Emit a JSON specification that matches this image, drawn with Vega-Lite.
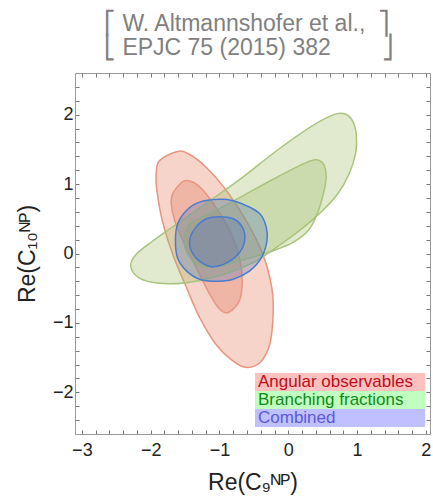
{
  "$schema": "https://vega.github.io/schema/vega-lite/v6.json",
  "width": 355,
  "height": 361,
  "autosize": "none",
  "padding": {"left": 75, "top": 73, "right": 3, "bottom": 63},
  "background": "white",
  "config": {"view": {"stroke": null}},
  "title": {
    "text": ["⎡ W. Altmannshofer et al.,\u00a0\u00a0⎤", "⎣ EPJC 75 (2015) 382\u00a0\u00a0\u00a0\u00a0\u00a0\u00a0\u00a0\u00a0⎦"],
    "frame": "group",
    "anchor": "start",
    "align": "left",
    "dx": 29,
    "offset": -10,
    "baseline": "bottom",
    "font": "Liberation Sans",
    "fontSize": 23,
    "fontWeight": "normal",
    "lineHeight": 24,
    "color": "#808080"
  },
  "datasets": {
    "legend": [
      {"s": "Angular observables"},
      {"s": "Branching fractions"},
      {"s": "Combined"}
    ],
    "contours": [
      {"s": "Angular observables", "c": "A2", "i": 0, "x": -1.87, "y": 1.34},
      {"s": "Angular observables", "c": "A2", "i": 1, "x": -1.61, "y": 1.47},
      {"s": "Angular observables", "c": "A2", "i": 2, "x": -1.44, "y": 1.43},
      {"s": "Angular observables", "c": "A2", "i": 3, "x": -1.19, "y": 1.24},
      {"s": "Angular observables", "c": "A2", "i": 4, "x": -0.90, "y": 0.91},
      {"s": "Angular observables", "c": "A2", "i": 5, "x": -0.61, "y": 0.47},
      {"s": "Angular observables", "c": "A2", "i": 6, "x": -0.37, "y": -0.01},
      {"s": "Angular observables", "c": "A2", "i": 7, "x": -0.24, "y": -0.49},
      {"s": "Angular observables", "c": "A2", "i": 8, "x": -0.22, "y": -0.87},
      {"s": "Angular observables", "c": "A2", "i": 9, "x": -0.27, "y": -1.31},
      {"s": "Angular observables", "c": "A2", "i": 10, "x": -0.41, "y": -1.57},
      {"s": "Angular observables", "c": "A2", "i": 11, "x": -0.61, "y": -1.64},
      {"s": "Angular observables", "c": "A2", "i": 12, "x": -0.80, "y": -1.55},
      {"s": "Angular observables", "c": "A2", "i": 13, "x": -1.05, "y": -1.31},
      {"s": "Angular observables", "c": "A2", "i": 14, "x": -1.29, "y": -0.92},
      {"s": "Angular observables", "c": "A2", "i": 15, "x": -1.48, "y": -0.49},
      {"s": "Angular observables", "c": "A2", "i": 16, "x": -1.68, "y": -0.01},
      {"s": "Angular observables", "c": "A2", "i": 17, "x": -1.83, "y": 0.47},
      {"s": "Angular observables", "c": "A2", "i": 18, "x": -1.91, "y": 0.91},
      {"s": "Angular observables", "c": "A2", "i": 19, "x": -1.92, "y": 1.15},

      {"s": "Angular observables", "c": "A1", "i": 0, "x": -1.68, "y": 0.86},
      {"s": "Angular observables", "c": "A1", "i": 1, "x": -1.53, "y": 1.04},
      {"s": "Angular observables", "c": "A1", "i": 2, "x": -1.39, "y": 1.03},
      {"s": "Angular observables", "c": "A1", "i": 3, "x": -1.24, "y": 0.91},
      {"s": "Angular observables", "c": "A1", "i": 4, "x": -1.05, "y": 0.66},
      {"s": "Angular observables", "c": "A1", "i": 5, "x": -0.85, "y": 0.33},
      {"s": "Angular observables", "c": "A1", "i": 6, "x": -0.71, "y": -0.06},
      {"s": "Angular observables", "c": "A1", "i": 7, "x": -0.67, "y": -0.39},
      {"s": "Angular observables", "c": "A1", "i": 8, "x": -0.71, "y": -0.68},
      {"s": "Angular observables", "c": "A1", "i": 9, "x": -0.87, "y": -0.85},
      {"s": "Angular observables", "c": "A1", "i": 10, "x": -1.00, "y": -0.80},
      {"s": "Angular observables", "c": "A1", "i": 11, "x": -1.14, "y": -0.59},
      {"s": "Angular observables", "c": "A1", "i": 12, "x": -1.34, "y": -0.20},
      {"s": "Angular observables", "c": "A1", "i": 13, "x": -1.53, "y": 0.18},
      {"s": "Angular observables", "c": "A1", "i": 14, "x": -1.65, "y": 0.47},
      {"s": "Angular observables", "c": "A1", "i": 15, "x": -1.70, "y": 0.71},

      {"s": "Branching fractions", "c": "B2", "i": 0, "x": -2.29, "y": -0.18},
      {"s": "Branching fractions", "c": "B2", "i": 1, "x": -2.21, "y": -0.01},
      {"s": "Branching fractions", "c": "B2", "i": 2, "x": -1.97, "y": 0.18},
      {"s": "Branching fractions", "c": "B2", "i": 3, "x": -1.63, "y": 0.42},
      {"s": "Branching fractions", "c": "B2", "i": 4, "x": -1.14, "y": 0.76},
      {"s": "Branching fractions", "c": "B2", "i": 5, "x": -0.66, "y": 1.10},
      {"s": "Branching fractions", "c": "B2", "i": 6, "x": -0.17, "y": 1.48},
      {"s": "Branching fractions", "c": "B2", "i": 7, "x": 0.32, "y": 1.82},
      {"s": "Branching fractions", "c": "B2", "i": 8, "x": 0.66, "y": 2.00},
      {"s": "Branching fractions", "c": "B2", "i": 9, "x": 0.83, "y": 2.01},
      {"s": "Branching fractions", "c": "B2", "i": 10, "x": 0.94, "y": 1.90},
      {"s": "Branching fractions", "c": "B2", "i": 11, "x": 0.99, "y": 1.70},
      {"s": "Branching fractions", "c": "B2", "i": 12, "x": 0.98, "y": 1.45},
      {"s": "Branching fractions", "c": "B2", "i": 13, "x": 0.89, "y": 1.16},
      {"s": "Branching fractions", "c": "B2", "i": 14, "x": 0.72, "y": 0.86},
      {"s": "Branching fractions", "c": "B2", "i": 15, "x": 0.47, "y": 0.59},
      {"s": "Branching fractions", "c": "B2", "i": 16, "x": 0.15, "y": 0.32},
      {"s": "Branching fractions", "c": "B2", "i": 17, "x": -0.17, "y": 0.09},
      {"s": "Branching fractions", "c": "B2", "i": 18, "x": -0.51, "y": -0.13},
      {"s": "Branching fractions", "c": "B2", "i": 19, "x": -1.00, "y": -0.32},
      {"s": "Branching fractions", "c": "B2", "i": 20, "x": -1.48, "y": -0.42},
      {"s": "Branching fractions", "c": "B2", "i": 21, "x": -1.87, "y": -0.43},
      {"s": "Branching fractions", "c": "B2", "i": 22, "x": -2.17, "y": -0.35},

      {"s": "Branching fractions", "c": "B1", "i": 0, "x": -1.44, "y": 0.42},
      {"s": "Branching fractions", "c": "B1", "i": 1, "x": -1.05, "y": 0.62},
      {"s": "Branching fractions", "c": "B1", "i": 2, "x": -0.66, "y": 0.83},
      {"s": "Branching fractions", "c": "B1", "i": 3, "x": -0.22, "y": 1.07},
      {"s": "Branching fractions", "c": "B1", "i": 4, "x": 0.17, "y": 1.27},
      {"s": "Branching fractions", "c": "B1", "i": 5, "x": 0.39, "y": 1.35},
      {"s": "Branching fractions", "c": "B1", "i": 6, "x": 0.51, "y": 1.29},
      {"s": "Branching fractions", "c": "B1", "i": 7, "x": 0.55, "y": 1.10},
      {"s": "Branching fractions", "c": "B1", "i": 8, "x": 0.51, "y": 0.86},
      {"s": "Branching fractions", "c": "B1", "i": 9, "x": 0.42, "y": 0.57},
      {"s": "Branching fractions", "c": "B1", "i": 10, "x": 0.29, "y": 0.33},
      {"s": "Branching fractions", "c": "B1", "i": 11, "x": 0.07, "y": 0.16},
      {"s": "Branching fractions", "c": "B1", "i": 12, "x": -0.22, "y": 0.04},
      {"s": "Branching fractions", "c": "B1", "i": 13, "x": -0.61, "y": -0.08},
      {"s": "Branching fractions", "c": "B1", "i": 14, "x": -1.00, "y": -0.18},
      {"s": "Branching fractions", "c": "B1", "i": 15, "x": -1.29, "y": -0.18},
      {"s": "Branching fractions", "c": "B1", "i": 16, "x": -1.46, "y": -0.01},
      {"s": "Branching fractions", "c": "B1", "i": 17, "x": -1.51, "y": 0.18},

      {"s": "Combined", "c": "C2", "i": 0, "x": -1.00, "y": 0.78},
      {"s": "Combined", "c": "C2", "i": 1, "x": -1.29, "y": 0.74},
      {"s": "Combined", "c": "C2", "i": 2, "x": -1.48, "y": 0.62},
      {"s": "Combined", "c": "C2", "i": 3, "x": -1.61, "y": 0.42},
      {"s": "Combined", "c": "C2", "i": 4, "x": -1.64, "y": 0.18},
      {"s": "Combined", "c": "C2", "i": 5, "x": -1.61, "y": -0.06},
      {"s": "Combined", "c": "C2", "i": 6, "x": -1.48, "y": -0.25},
      {"s": "Combined", "c": "C2", "i": 7, "x": -1.29, "y": -0.37},
      {"s": "Combined", "c": "C2", "i": 8, "x": -1.05, "y": -0.40},
      {"s": "Combined", "c": "C2", "i": 9, "x": -0.80, "y": -0.37},
      {"s": "Combined", "c": "C2", "i": 10, "x": -0.56, "y": -0.25},
      {"s": "Combined", "c": "C2", "i": 11, "x": -0.39, "y": -0.06},
      {"s": "Combined", "c": "C2", "i": 12, "x": -0.31, "y": 0.18},
      {"s": "Combined", "c": "C2", "i": 13, "x": -0.32, "y": 0.38},
      {"s": "Combined", "c": "C2", "i": 14, "x": -0.41, "y": 0.57},
      {"s": "Combined", "c": "C2", "i": 15, "x": -0.61, "y": 0.69},
      {"s": "Combined", "c": "C2", "i": 16, "x": -0.80, "y": 0.76},

      {"s": "Combined", "c": "C1", "i": 0, "x": -1.00, "y": 0.53},
      {"s": "Combined", "c": "C1", "i": 1, "x": -1.19, "y": 0.50},
      {"s": "Combined", "c": "C1", "i": 2, "x": -1.34, "y": 0.38},
      {"s": "Combined", "c": "C1", "i": 3, "x": -1.43, "y": 0.21},
      {"s": "Combined", "c": "C1", "i": 4, "x": -1.41, "y": 0.04},
      {"s": "Combined", "c": "C1", "i": 5, "x": -1.29, "y": -0.11},
      {"s": "Combined", "c": "C1", "i": 6, "x": -1.12, "y": -0.19},
      {"s": "Combined", "c": "C1", "i": 7, "x": -0.95, "y": -0.16},
      {"s": "Combined", "c": "C1", "i": 8, "x": -0.78, "y": -0.06},
      {"s": "Combined", "c": "C1", "i": 9, "x": -0.66, "y": 0.09},
      {"s": "Combined", "c": "C1", "i": 10, "x": -0.63, "y": 0.26},
      {"s": "Combined", "c": "C1", "i": 11, "x": -0.68, "y": 0.40},
      {"s": "Combined", "c": "C1", "i": 12, "x": -0.80, "y": 0.50}
    ]
  },
  "layer": [
    {
      "data": {"name": "contours"},
      "mark": {"type": "line", "interpolate": "cardinal-closed", "clip": true},
      "encoding": {
        "x": {
          "field": "x", "type": "quantitative",
          "scale": {"domain": [-3.1, 2.06], "nice": false, "zero": false},
          "axis": {
            "orient": "bottom",
            "values": [-3,-2.8,-2.6,-2.4,-2.2,-2,-1.8,-1.6,-1.4,-1.2,-1,-0.8,-0.6,-0.4,-0.2,0,0.2,0.4,0.6,0.8,1,1.2,1.4,1.6,1.8,2],
            "format": ".0f",
            "labelExpr": "datum.value % 1 === 0 ? datum.label : ''",
            "grid": false,
            "tickSize": -4,
            "tickColor": "#777",
            "domainColor": "#999",
            "labelFont": "Liberation Sans",
            "labelFontSize": 18,
            "labelColor": "#222",
            "labelPadding": 11,
            "labelFlush": false,
            "labelOverlap": false,
            "title": "Re(C₉ᴺᴾ)",
            "titleFont": "Liberation Sans",
            "titleFontSize": 23,
            "titleFontWeight": "normal",
            "titleColor": "#222",
            "titlePadding": 12
          }
        },
        "y": {
          "field": "y", "type": "quantitative",
          "scale": {"domain": [-2.6, 2.6], "nice": false, "zero": false},
          "axis": {
            "orient": "left",
            "values": [-2.4,-2.2,-2,-1.8,-1.6,-1.4,-1.2,-1,-0.8,-0.6,-0.4,-0.2,0,0.2,0.4,0.6,0.8,1,1.2,1.4,1.6,1.8,2,2.2,2.4],
            "format": ".0f",
            "labelExpr": "datum.value % 1 === 0 ? datum.label : ''",
            "grid": false,
            "tickSize": -4,
            "tickColor": "#777",
            "domainColor": "#999",
            "labelFont": "Liberation Sans",
            "labelFontSize": 18,
            "labelColor": "#222",
            "labelPadding": 6,
            "labelFlush": false,
            "labelOverlap": false,
            "title": "Re(C₁₀ᴺᴾ)",
            "titleFont": "Liberation Sans",
            "titleFontSize": 23,
            "titleFontWeight": "normal",
            "titleColor": "#222",
            "titlePadding": 13
          }
        },
        "detail": {"field": "c"},
        "order": {"field": "i", "type": "quantitative"},
        "fill": {
          "field": "s", "type": "nominal",
          "scale": {"domain": ["Angular observables", "Branching fractions", "Combined"], "range": ["#e07050", "#9cb860", "#4f6fc0"]},
          "legend": null
        },
        "stroke": {
          "field": "s", "type": "nominal",
          "scale": {"domain": ["Angular observables", "Branching fractions", "Combined"], "range": ["#e8957f", "#a9c47c", "#4a7bd0"]},
          "legend": null
        },
        "fillOpacity": {
          "field": "s", "type": "nominal",
          "scale": {"domain": ["Angular observables", "Branching fractions", "Combined"], "range": [0.3, 0.3, 0.42]},
          "legend": null
        },
        "strokeWidth": {
          "field": "s", "type": "nominal",
          "scale": {"domain": ["Angular observables", "Branching fractions", "Combined"], "range": [1.5, 1.5, 2.2]},
          "legend": null
        }
      }
    },
    {
      "layer": [
        {
          "mark": {"type": "rule", "color": "#333", "strokeDash": [1.5, 3], "strokeWidth": 1.3},
          "encoding": {
            "x": {
              "datum": 0, "type": "quantitative",
              "axis": {
                "orient": "top",
                "values": [-3,-2.8,-2.6,-2.4,-2.2,-2,-1.8,-1.6,-1.4,-1.2,-1,-0.8,-0.6,-0.4,-0.2,0,0.2,0.4,0.6,0.8,1,1.2,1.4,1.6,1.8,2],
                "labels": false, "grid": false, "tickSize": -4, "tickColor": "#777", "domainColor": "#999", "title": null
              }
            }
          }
        },
        {
          "mark": {"type": "rule", "color": "#333", "strokeDash": [1.5, 3], "strokeWidth": 1.3},
          "encoding": {
            "y": {
              "datum": 0, "type": "quantitative",
              "axis": {
                "orient": "right",
                "values": [-2.4,-2.2,-2,-1.8,-1.6,-1.4,-1.2,-1,-0.8,-0.6,-0.4,-0.2,0,0.2,0.4,0.6,0.8,1,1.2,1.4,1.6,1.8,2,2.2,2.4],
                "labels": false, "grid": false, "tickSize": -4, "tickColor": "#777", "domainColor": "#999", "title": null
              }
            }
          }
        }
      ]
    },
    {
      "data": {"name": "legend"},
      "mark": {"type": "text", "text": ""},
      "encoding": {
        "fill": {
          "field": "s", "type": "nominal",
          "scale": {"domain": ["Angular observables", "Branching fractions", "Combined"], "range": ["#ffc0c0", "#c0ffc0", "#c0c0ff"]},
          "legend": {
            "orient": "none",
            "legendX": 180,
            "legendY": 300,
            "title": null,
            "padding": 0,
            "rowPadding": -5.5,
            "symbolType": "M-1,-1H17.9V1H-1Z",
            "symbolSize": 324,
            "symbolStrokeWidth": 0,
            "symbolOpacity": 1,
            "labelOffset": -15,
            "labelFont": "Liberation Sans",
            "labelFontSize": 17,
            "labelLimit": 300,
            "encode": {
              "symbols": {"update": {
                "fillOpacity": {"value": 1},
                "opacity": {"value": 1},
                "stroke": {"value": "transparent"}
              }},
              "labels": {"update": {
                "fill": {"signal": "datum.value === 'Angular observables' ? '#b80f1a' : datum.value === 'Branching fractions' ? '#0f8a17' : '#5a5ad8'"}
              }}
            }
          }
        }
      }
    }
  ],
  "resolve": {"axis": {"x": "independent", "y": "independent"}, "scale": {"fill": "independent"}}
}
